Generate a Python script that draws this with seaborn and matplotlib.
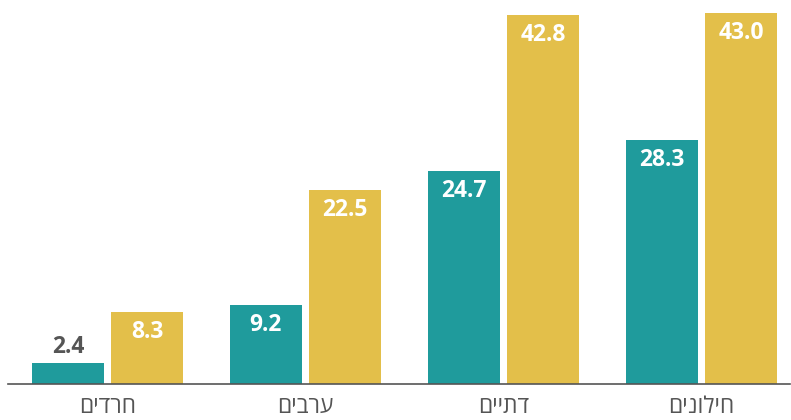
import pandas as pd
import matplotlib
matplotlib.use("Agg")
import matplotlib.pyplot as plt
import seaborn as sns

# data ---------------------------------------------------------------
groups = ['חרדים', 'ערבים', 'דתיים', 'חילונים']
series = ['a', 'b']
values_a = [2.4, 9.2, 24.7, 28.3]
values_b = [8.3, 22.5, 42.8, 43.0]
colors = ['#1f9b9c', '#e3bf4a']

sns.set_theme(style='white')
plt.rcParams['font.family'] = ['Open Sans', 'DejaVu Sans']

# matplotlib has no bidi support, so reverse hebrew for display
disp = [g[::-1] for g in groups]
df = pd.DataFrame({
    'group': disp * 2,
    'series': [series[0]] * 4 + [series[1]] * 4,
    'value': values_a + values_b,
})

fig = plt.figure(figsize=(7.91, 4.20), dpi=100)
ax = fig.add_axes([8 / 791, 36 / 420, 782 / 791, 45 * 8.628 / 420])
sns.barplot(data=df, x='group', y='value', hue='series', palette=colors,
            width=0.8, gap=0.09, order=disp, hue_order=series,
            saturation=1, legend=False, linewidth=0, ax=ax)

ax.set_xlim(-0.5025, 3.447)
ax.set_ylim(0, 45)
for s in ['top', 'right', 'left']:
    ax.spines[s].set_visible(False)
ax.spines['bottom'].set_color('#555555')
ax.spines['bottom'].set_linewidth(1.2)
ax.set_yticks([])
ax.set_xlabel('')
ax.set_ylabel('')
ax.tick_params(axis='x', length=0, pad=8, labelsize=16.5, labelcolor='#555555')

for cont in ax.containers:
    for bar in cont:
        h = bar.get_height()
        xc = bar.get_x() + bar.get_width() / 2
        if h < 5:
            ax.annotate(f'{h:.1f}', (xc, h), xytext=(0, 16), textcoords='offset pixels',
                        ha='center', va='center', fontsize=16.5, fontweight='bold',
                        color='#555555')
        else:
            ax.annotate(f'{h:.1f}', (xc, h), xytext=(0, -20), textcoords='offset pixels',
                        ha='center', va='center', fontsize=16.5, fontweight='bold',
                        color='white')

fig.savefig('out.png', dpi=100)
